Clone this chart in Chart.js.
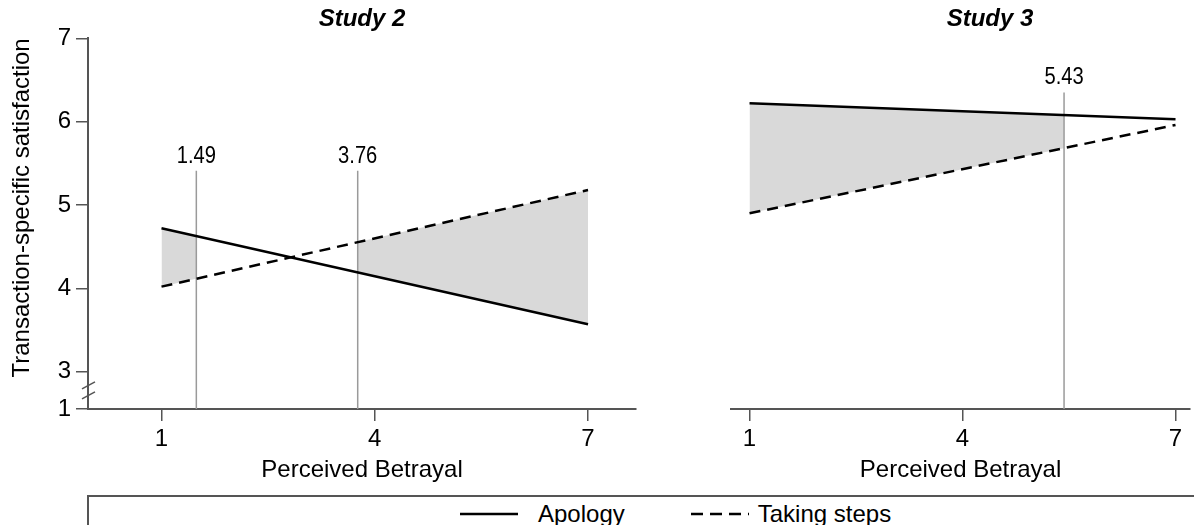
<!DOCTYPE html>
<html>
<head>
<meta charset="utf-8">
<script src="https://cdn.jsdelivr.net/npm/chart.js@4.4.1/dist/chart.umd.min.js"></script>
<style>
  html, body { margin: 0; padding: 0; background: #fff; overflow: hidden; }
  body { width: 1194px; height: 525px; position: relative; font-family: "Liberation Sans", Arial, sans-serif; }
  canvas { position: absolute; top: 0; }
  #study2 { left: 0; }
  #study3 { left: 640px; }
  #legend { position: absolute; left: 87px; top: 495px; width: 1200px; height: 60px;
            border-top: 2px solid #555; border-left: 2px solid #555; }
  #legend .row { position: absolute; left: 371px; top: 3px; height: 28px; display: flex; align-items: center;
                 font-size: 24px; color: #000; }
  #legend svg { display: block; }
</style>
</head>
<body>
<canvas id="study2" width="724" height="490"></canvas>
<canvas id="study3" width="700" height="490"></canvas>
<div id="legend">
  <div class="row">
    <svg width="58" height="6" style="margin-right:20px"><line x1="0" y1="3" x2="58" y2="3" stroke="#000" stroke-width="2.5"/></svg>
    <span style="margin-right:66px">Apology</span>
    <svg width="58" height="6" style="margin-right:9px"><line x1="0" y1="3" x2="58" y2="3" stroke="#000" stroke-width="2.5" stroke-dasharray="12 7"/></svg>
    <span>Taking steps</span>
  </div>
</div>
<script>
// perceived betrayal at the two ends of each simple slope
const betrayal = [1, 7];
const study2Apology = [4.72, 3.57];
const study2Steps = [4.02, 5.18];
const study3Apology = [6.22, 6.03];
const study3Steps = [4.90, 5.96];

// Johnson-Neyman points and shaded (significant) regions
const study2Cuts = [1.49, 3.76];
const study3Cuts = [5.43];
const study2Shade = [[1, 1.49], [3.76, 7]];
const study3Shade = [[1, 5.43]];
const study2CutTop = 5.41;
const study3CutTop = 6.35;

const xTicks = [1, 4, 7];
const yTicks = [1, 3, 4, 5, 6, 7];
// the y axis is broken between 1 and 3; "1" sits just under 3
const Y_BOTTOM = 2.552;
const yPos = v => (v === 1 ? Y_BOTTOM : v);

const FONT = '"Liberation Sans", Arial, sans-serif';
const AXIS = '#555';

const panelDecor = {
  id: 'panelDecor',
  beforeDatasetsDraw(chart, args, opts) {
    const { ctx, chartArea, scales: { x } } = chart;
    const a = chart.getDatasetMeta(0).data;
    const s = chart.getDatasetMeta(1).data;
    opts.shade.forEach(([from, to]) => {
      const l = x.getPixelForValue(from), r = x.getPixelForValue(to);
      ctx.save();
      ctx.beginPath();
      ctx.rect(l, chartArea.top, r - l, chartArea.bottom - chartArea.top);
      ctx.clip();
      ctx.beginPath();
      a.forEach((p, i) => (i ? ctx.lineTo(p.x, p.y) : ctx.moveTo(p.x, p.y)));
      s.slice().reverse().forEach(p => ctx.lineTo(p.x, p.y));
      ctx.closePath();
      ctx.fillStyle = '#d9d9d9';
      ctx.fill();
      ctx.restore();
    });
  },
  afterDatasetsDraw(chart, args, opts) {
    const { ctx, scales: { x, y } } = chart;
    ctx.save();
    ctx.font = '24px ' + FONT;
    ctx.fillStyle = '#000';
    ctx.textAlign = 'center';
    ctx.textBaseline = 'alphabetic';
    opts.cuts.forEach(c => {
      // condensed label like the original
      ctx.save();
      ctx.translate(x.getPixelForValue(c), y.getPixelForValue(opts.cutTop) - 8);
      ctx.scale(0.84, 1);
      ctx.fillText(c.toFixed(2), 0, 0);
      ctx.restore();
    });
    if (opts.axisBreak) {
      const ax = chart.chartArea.left;
      const yb = y.getPixelForValue((3 + Y_BOTTOM) / 2);
      ctx.strokeStyle = AXIS;
      ctx.lineWidth = 1.5;
      [-5, 5].forEach(d => {
        ctx.beginPath();
        ctx.moveTo(ax - 6, yb + d + 3.5);
        ctx.lineTo(ax + 7, yb + d - 3.5);
        ctx.stroke();
      });
    }
    ctx.restore();
  }
};

function spacer(position, width) {
  return {
    position, min: Y_BOTTOM, max: 7,
    afterFit: s => { s.width = width; },
    ticks: { display: false }, grid: { display: false }, border: { display: false }
  };
}

function makePanel(id, title, apology, steps, cuts, cutTop, shade, xMin, xMax, showY, leftW, rightW) {
  const datasets = [
    { label: 'Apology', data: betrayal.map((x, i) => ({ x, y: apology[i] })),
      borderColor: '#000', borderWidth: 2.5, pointRadius: 0 },
    { label: 'Taking steps', data: betrayal.map((x, i) => ({ x, y: steps[i] })),
      borderColor: '#000', borderWidth: 2.5, borderDash: [11, 7], pointRadius: 0 },
    ...cuts.map(c => ({ label: 'cut ' + c, data: [{ x: c, y: Y_BOTTOM }, { x: c, y: cutTop }],
      borderColor: '#9a9a9a', borderWidth: 1.5, pointRadius: 0 }))
  ];
  const y = showY ? {
    min: Y_BOTTOM, max: 7,
    afterBuildTicks: s => { s.ticks = yTicks.map(v => ({ value: yPos(v) })); },
    afterFit: s => { s.width = leftW; },
    grid: { drawOnChartArea: false, drawTicks: true, tickLength: 12, color: AXIS, lineWidth: 1.5 },
    border: { display: true, color: AXIS, width: 2 },
    ticks: { autoSkip: false, padding: 5, color: '#000', font: { family: FONT, size: 24 },
             callback: v => (v === Y_BOTTOM ? '1' : String(v)) },
    title: { display: true, text: 'Transaction-specific satisfaction', align: 'end', color: '#000',
             font: { family: FONT, size: 24 }, padding: { top: 7.5, bottom: 0 } }
  } : spacer('left', leftW);
  return new Chart(document.getElementById(id), {
    type: 'line',
    data: { datasets },
    plugins: [panelDecor],
    options: {
      responsive: false,
      animation: false,
      layout: { padding: 0 },
      scales: {
        x: {
          type: 'linear', min: xMin, max: xMax,
          afterBuildTicks: s => { s.ticks = xTicks.map(v => ({ value: v })); },
          afterFit: s => { s.height = 81; },
          grid: { drawOnChartArea: false, drawTicks: true, tickLength: 12, color: AXIS, lineWidth: 1.5 },
          border: { display: true, color: AXIS, width: 2 },
          ticks: { autoSkip: false, maxRotation: 0, padding: 4, color: '#000', font: { family: FONT, size: 24 } },
          title: { display: true, text: 'Perceived Betrayal', color: '#000',
                   font: { family: FONT, size: 24 }, padding: { top: 0, bottom: 5.5 } }
        },
        y,
        // empty right-hand spacer so the panel title lands where it does in the original
        yPad: spacer('right', rightW)
      },
      plugins: {
        legend: { display: false },
        tooltip: { enabled: false },
        title: { display: true, text: title, color: '#000',
                 font: { family: FONT, size: 24, weight: 'bold', style: 'italic' },
                 padding: { top: 5, bottom: 4.5 } },
        panelDecor: { shade, cuts, cutTop, axisBreak: showY }
      }
    }
  });
}

makePanel('study2', 'Study 2', study2Apology, study2Steps, study2Cuts, study2CutTop, study2Shade,
  -0.034, 7.675, true, 88, 88);
makePanel('study3', 'Study 3', study3Apology, study3Steps, study3Cuts, study3CutTop, study3Shade,
  0.739, 7.204, false, 91, 150);
</script>
</body>
</html>
